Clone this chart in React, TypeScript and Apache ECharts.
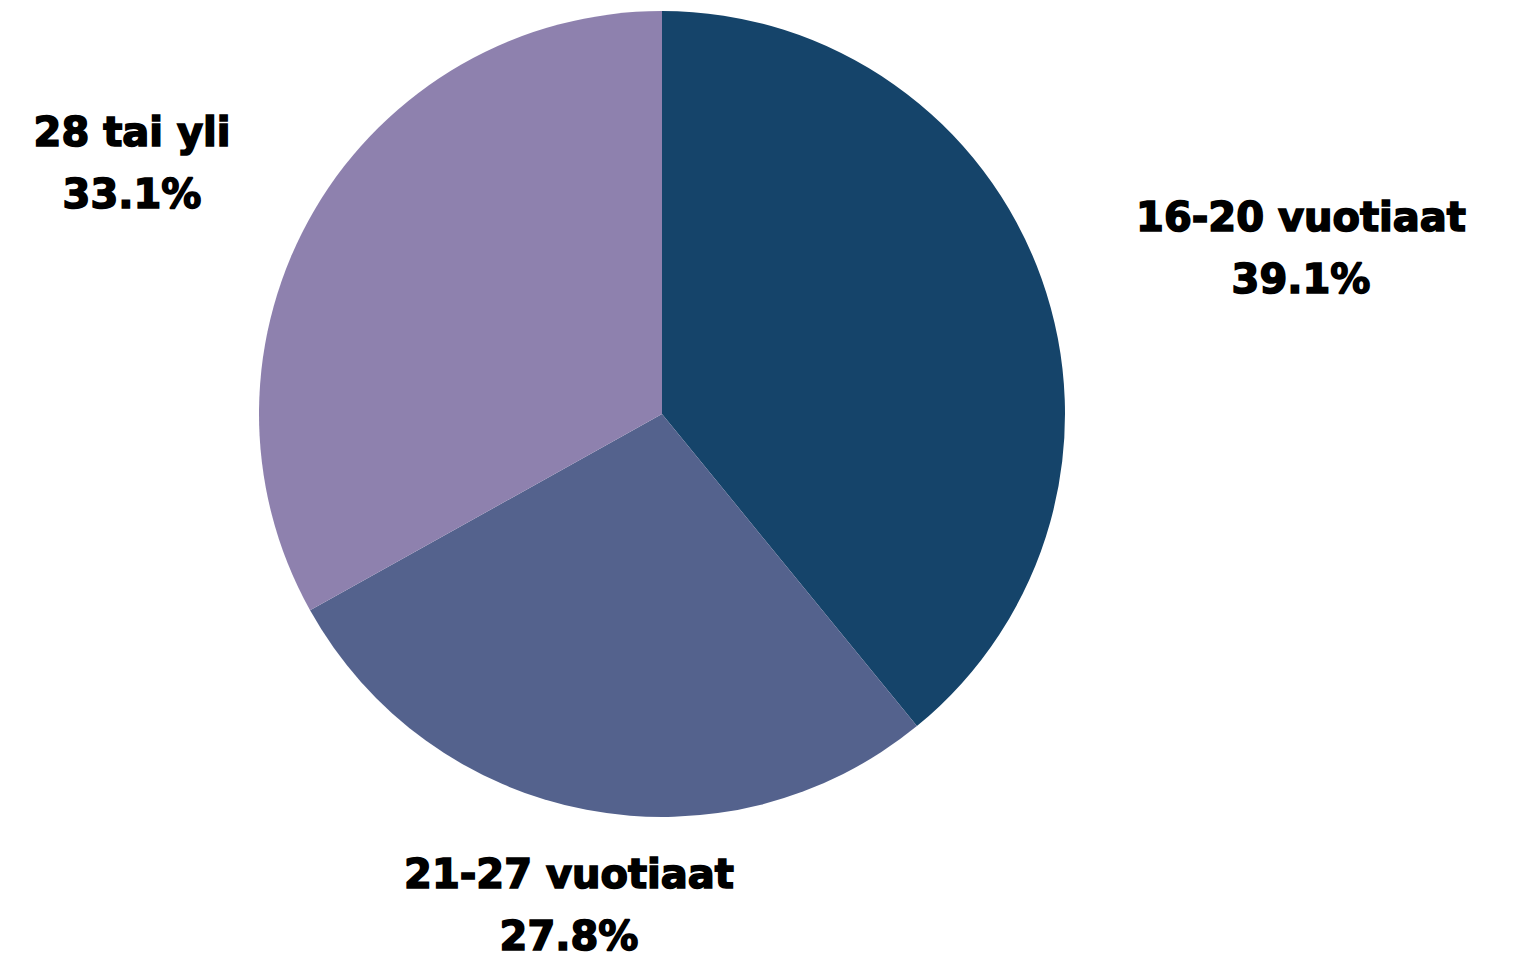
import React, { useEffect, useRef } from "react";
import * as echarts from "echarts";

const categories = ["16-20 vuotiaat", "21-27 vuotiaat", "28 tai yli"];
const values = [39.1, 27.8, 33.1];
const colors = ["#15446A", "#54628D", "#8E81AE"];
const labelPos: [number, number][] = [
  [1301, 248],
  [569, 905],
  [132, 163],
];

export default function App() {
  const ref = useRef<HTMLDivElement>(null);
  useEffect(() => {
    if (!ref.current) return;
    const chart = echarts.init(ref.current, undefined, { renderer: "svg" });
    chart.setOption({
      animation: false,
      backgroundColor: "#ffffff",
      series: [
        {
          type: "pie",
          center: [662, 414],
          radius: [0, 403],
          startAngle: 90,
          clockwise: true,
          avoidLabelOverlap: false,
          itemStyle: { borderWidth: 0 },
          label: {
            show: true,
            position: "outside",
            formatter: (p: any) => `${p.name}\n${p.value.toFixed(1)}%`,
            fontFamily: "DejaVu Sans",
            fontWeight: "bold",
            fontSize: 40,
            lineHeight: 62,
            color: "#000000",
            textBorderColor: "#000000",
            textBorderWidth: 1.6,
            align: "center",
          },
          labelLine: { show: false },
          labelLayout: (params: any) => {
            const p = labelPos[params.dataIndex];
            return { x: p[0], y: p[1], align: "center", verticalAlign: "middle" };
          },
          data: categories.map((c, i) => ({
            name: c,
            value: values[i],
            itemStyle: { color: colors[i] },
          })),
        },
      ],
    });
    return () => chart.dispose();
  }, []);
  return (
    <div
      ref={ref}
      style={{ position: "fixed", left: 0, top: 0, width: 1522, height: 960 }}
    />
  );
}
